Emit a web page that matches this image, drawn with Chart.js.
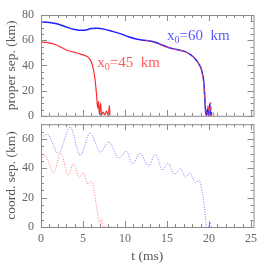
<!DOCTYPE html>
<html>
<head>
<meta charset="utf-8">
<script src="https://cdn.jsdelivr.net/npm/chart.js@4.4.0/dist/chart.umd.min.js"></script>
<style>
  body { margin: 0; background: #fff; }
  #wrap { position: relative; width: 269px; height: 269px; }
  #wrap div { position: absolute; left: 0; width: 269px; }
</style>
</head>
<body>
<div id="wrap">
  <div style="top:110px;height:159px"><canvas id="bot"></canvas></div>
  <div style="top:0px;height:130px"><canvas id="top"></canvas></div>
</div>
<script>
// top panel: proper separation (km) vs t (ms)
const tTopBlue = [0, 1, 2, 3, 4, 5, 6, 6.7, 7.5, 8.5, 9.5, 10.5, 11.2, 12, 13.5, 14.5, 15.1, 16, 17.1, 17.8, 18.3, 18.8, 19.1, 19.4, 19.6, 19.7, 19.85, 19.95, 20.1, 20.2, 20.3];
const sepTopBlue = [74.5, 74, 72.8, 70.5, 68.5, 67.8, 69.2, 69.5, 68.8, 67, 65, 62.5, 61.2, 60.2, 58.6, 56, 54.4, 52.8, 51.1, 48.5, 45.6, 41, 36.8, 25.6, 3, 0, 6, 0, 9.5, 0, 3];
const tTopRed = [0, 0.8, 1.7, 2.5, 3.1, 4, 4.7, 5.5, 5.8, 6.1, 6.4, 6.6, 6.75, 6.85, 6.95, 7.1, 7.2, 7.4, 7.6, 7.8, 8.0, 8.15, 8.2];
const sepTopRed = [58.7, 58, 56.6, 54, 52, 50.3, 49, 47, 45, 40.6, 30.6, 18, 6, 11.5, 1, 10, 0.5, 3, 0.5, 4, 0, 8, 0];
const tTopRedDash = [12.5, 13.5, 14.5, 15.5, 16.5, 17.3, 18, 18.6, 19.1, 19.4, 19.6, 19.75, 19.9, 20.0, 20.2, 20.3, 20.5, 20.6];
const sepTopRedDash = [59.8, 58, 55.5, 53.5, 52, 50.3, 47.5, 43, 36, 24, 5, 0, 9, 0, 11, 0, 3, 0];

// bottom panel: coordinate separation (km) vs t (ms)
const tBotBlue = [0, 0.76, 2.07, 3.47, 4.67, 5.86, 7.06, 8.05, 9.25, 10.17, 10.9, 11.8, 12.8, 13.6, 14.5, 15.1, 15.9, 16.6, 17.2, 17.7, 18.4, 18.8, 19.3, 19.6, 19.7, 19.9, 20.1, 20.3];
const coordBlue = [61, 63, 50, 68, 49, 64, 51, 58, 47, 51.5, 43, 50.3, 41.5, 49.4, 38.7, 43.6, 35.8, 39.8, 34, 36.8, 30, 31.9, 20, 6, 0, 0, 3, 0];
const tBotRed = [0, 0.48, 1.5, 2.35, 3.27, 3.87, 4.55, 5.03, 5.6, 6.0, 6.25, 6.66, 6.98, 7.2, 7.4, 8.85];
const coordRed = [46, 48.6, 37, 50.2, 35.2, 43.1, 33.6, 36.8, 29.2, 31, 27, 12, 2.6, 5.5, 0, 0];

const tTicks = [0, 5, 10, 15, 20, 25];
const sepTicks = [0, 20, 40, 60, 80];
const coordTicks = [0, 20, 40, 60];

const pts = (xs, ys) => xs.map((x, i) => ({ x: x, y: ys[i] }));
const serif = "'Liberation Serif', 'DejaVu Serif', serif";

// box with inward ticks on all four sides
const frame = {
  id: "frame",
  afterDraw(chart) {
    const { ctx, chartArea: a, scales: { x, y } } = chart;
    ctx.save();
    ctx.strokeStyle = "#8a8a8a";
    ctx.lineWidth = 1;
    ctx.strokeRect(a.left + 0.5, a.top + 0.5, a.right - a.left, a.bottom - a.top);
    ctx.beginPath();
    for (let v = 0; v <= 25; v++) {
      const len = v % 5 === 0 ? 6 : 3;
      const px = Math.round(x.getPixelForValue(v)) + 0.5;
      ctx.moveTo(px, a.bottom); ctx.lineTo(px, a.bottom - len);
      ctx.moveTo(px, a.top); ctx.lineTo(px, a.top + len);
    }
    for (let v = y.min; v <= y.max; v += 5) {
      const len = v % 20 === 0 ? 6 : 3;
      const py = Math.round(y.getPixelForValue(v)) + 0.5;
      ctx.moveTo(a.left, py); ctx.lineTo(a.left + len, py);
      ctx.moveTo(a.right, py); ctx.lineTo(a.right - len, py);
    }
    ctx.stroke();
    ctx.restore();
  }
};

// "x0=.. km" labels with subscript
const curveLabels = {
  id: "curveLabels",
  afterDatasetsDraw(chart, args, opts) {
    const { ctx, scales: { x, y } } = chart;
    (opts.items || []).forEach(it => {
      let px = x.getPixelForValue(it.t);
      const py = y.getPixelForValue(it.v);
      ctx.save();
      ctx.fillStyle = it.color;
      ctx.textBaseline = "middle";
      ctx.font = "15px " + serif;
      ctx.fillText("x", px, py);
      px += ctx.measureText("x").width;
      ctx.font = "10px " + serif;
      ctx.fillText("0", px, py + 4);
      px += ctx.measureText("0").width;
      ctx.font = "15px " + serif;
      ctx.fillText(it.rest, px, py);
      ctx.restore();
    });
  }
};

function yAxis(min, max, ticks, title) {
  return {
    type: "linear", min: min, max: max,
    afterFit(s) { s.width = 41; },
    afterBuildTicks(s) { s.ticks = ticks.map(v => ({ value: v })); },
    grid: { display: false, drawTicks: false },
    border: { display: false },
    ticks: { padding: 7, color: "#666", font: { family: serif, size: 12 } },
    title: { display: true, text: title, color: "#555", padding: { top: 3, bottom: 0 }, font: { family: serif, size: 13.5 } }
  };
}

new Chart(document.getElementById("top"), {
  type: "line",
  data: {
    datasets: [
      { data: pts(tTopRedDash, sepTopRedDash), borderColor: "#ff4a4a", borderWidth: 1, borderDash: [4, 3], cubicInterpolationMode: "monotone" },
      { data: pts(tTopBlue, sepTopBlue), borderColor: "#1f1fff", borderWidth: 1.5, cubicInterpolationMode: "monotone" },
      { data: pts(tTopRed, sepTopRed), borderColor: "#ff2a2a", borderWidth: 1.2, cubicInterpolationMode: "monotone" }
    ]
  },
  options: {
    responsive: true, maintainAspectRatio: false, animation: false,
    layout: { padding: { top: 15, right: 15.5, bottom: 9, left: 0 } },
    elements: { point: { radius: 0 } },
    plugins: {
      legend: { display: false }, tooltip: { enabled: false },
      curveLabels: { items: [
        { t: 15.0, v: 63, rest: "=60  km", color: "#5a5aff" },
        { t: 6.7, v: 42, rest: "=45  km", color: "#ff5a5a" }
      ] }
    },
    scales: {
      x: { type: "linear", min: 0, max: 25.3, display: false },
      y: yAxis(0, 80, sepTicks, "proper sep. (km)")
    }
  },
  plugins: [frame, curveLabels]
});

new Chart(document.getElementById("bot"), {
  type: "line",
  data: {
    datasets: [
      { data: pts(tBotBlue, coordBlue), borderColor: "#7a7aff", borderWidth: 1, borderDash: [1, 1.5], cubicInterpolationMode: "monotone" },
      { data: pts(tBotRed, coordRed), borderColor: "#ff7a7a", borderWidth: 1, borderDash: [1, 1.5], cubicInterpolationMode: "monotone" }
    ]
  },
  options: {
    responsive: true, maintainAspectRatio: false, animation: false,
    layout: { padding: { top: 11, right: 15.5, bottom: 0, left: 0 } },
    elements: { point: { radius: 0 } },
    plugins: { legend: { display: false }, tooltip: { enabled: false } },
    scales: {
      x: {
        type: "linear", min: 0, max: 25.3,
        afterFit(s) { s.height = 42; },
        afterBuildTicks(s) { s.ticks = tTicks.map(v => ({ value: v })); },
        grid: { display: false, drawTicks: false },
        border: { display: false },
        ticks: { padding: 5, color: "#666", maxRotation: 0, font: { family: serif, size: 12 } },
        title: { display: true, text: "t (ms)", color: "#555", padding: { top: 0, bottom: 4 }, font: { family: serif, size: 13.5 } }
      },
      y: yAxis(0, 70, coordTicks, "coord. sep. (km)")
    }
  },
  plugins: [frame]
});
</script>
</body>
</html>
